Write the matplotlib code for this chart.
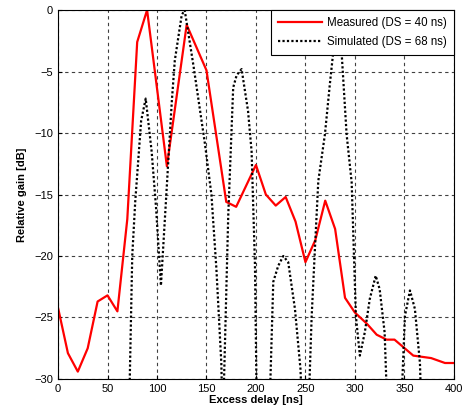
import matplotlib
matplotlib.use('Agg')
import matplotlib.pyplot as plt

plt.rcParams['font.family'] = ['Liberation Sans', 'DejaVu Sans']

# measured power delay profile
meas_delay = [0, 10, 20, 30, 40, 50, 60, 70, 80, 90, 110, 130, 150, 170, 180, 200, 210, 220,
              230, 240, 250, 260, 270, 280, 290, 300, 312, 322, 332, 340, 359, 377, 391, 400]
meas_gain = [-24.2, -27.9, -29.4, -27.5, -23.7, -23.2, -24.5, -17.0, -2.6, 0.0, -12.7, -1.2,
             -4.9, -15.6, -16.0, -12.6, -15.0, -15.9, -15.2, -17.2, -20.5, -18.7, -15.5, -17.8,
             -23.4, -24.6, -25.5, -26.4, -26.8, -26.8, -28.1, -28.3, -28.7, -28.7]

# simulated profile, values below -30 dB fall outside the axes
sim_delay = [0, 70, 75, 78, 84, 88.6, 94.6, 99, 104, 109, 115, 118, 125, 128, 137, 148.5, 155,
             160, 165, 166.5, 172, 177, 180.5, 185.5, 192, 195.6, 199, 202, 211, 217.5, 222.5,
             227.6, 232.6, 239.4, 245, 250, 256.3, 259.6, 263, 269.7, 274.7, 278, 282, 286.6,
             291.6, 296.7, 301, 305, 310, 315, 321, 325, 330, 336, 343, 350.5, 355.6, 360.6,
             365.7, 370, 400]
sim_gain = [-40, -40, -20, -15.6, -9.0, -7.2, -11.5, -16.0, -22.4, -15.6, -7.4, -4.1, -0.4, 0.0,
            -4.6, -10.9, -15.0, -21.0, -28.7, -34, -16.7, -6.3, -5.3, -4.8, -8.2, -11.5, -20.7,
            -40, -40, -22.1, -20.8, -20.0, -20.5, -24.3, -29.2, -40, -24.9, -19.4, -13.9, -10.1,
            -6.0, -3.5, -1.5, -3.5, -10.1, -14.0, -24.9, -28.1, -26.2, -23.5, -21.6, -22.7, -26.2,
            -40, -40, -24.9, -22.8, -24.3, -28.7, -40, -40]

labels = ['Measured (DS = 40 ns)', 'Simulated (DS = 68 ns)']
xticks = [0, 50, 100, 150, 200, 250, 300, 350, 400]
yticks = [0, -5, -10, -15, -20, -25, -30]


def main():
    fig = plt.figure(figsize=(4.66, 4.19), dpi=100)
    ax = fig.add_axes([0.1245, 0.0955, 0.8495, 0.8805])

    ax.plot(meas_delay, meas_gain, color='red', linewidth=1.6, label=labels[0])
    ax.plot(sim_delay, sim_gain, color='black', linewidth=1.6, linestyle=(0, (1, 1)), label=labels[1])

    ax.set_xlim(0, 400)
    ax.set_ylim(-30, 0)
    ax.set_xticks(xticks)
    ax.set_yticks(yticks)
    ax.tick_params(direction='in', labelsize=8, length=3)
    ax.grid(True, linestyle=(0, (3, 3)), linewidth=0.8, color='0.25')

    ax.set_xlabel('Excess delay [ns]', fontsize=8, fontweight='bold', labelpad=1)
    ax.set_ylabel('Relative gain [dB]', fontsize=8, fontweight='bold', labelpad=5)

    leg = ax.legend(loc='upper right', prop={'size': 8.3}, fancybox=False, framealpha=1,
                    edgecolor='black', borderaxespad=0, handlelength=3.8, handletextpad=0.45,
                    borderpad=0.6, labelspacing=0.65)
    leg.get_frame().set_linewidth(0.8)

    fig.savefig('out.png', dpi=100)


if __name__ == "__main__":
    main()
